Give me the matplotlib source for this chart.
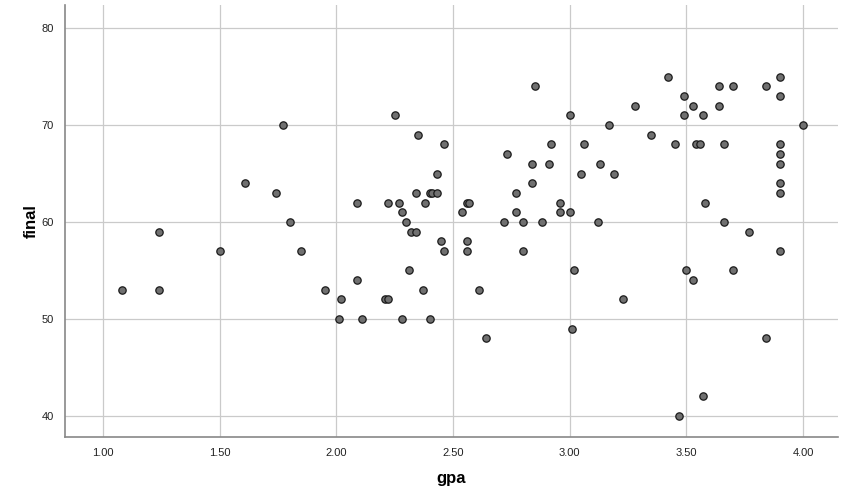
import matplotlib.pyplot as plt

# valores (gpa, final)
gpa = [1.08, 1.24, 1.24, 1.50, 1.61, 1.74, 1.77, 1.80, 1.85, 1.95,
       2.01, 2.02, 2.09, 2.09, 2.11, 2.21, 2.22, 2.22, 2.25, 2.27,
       2.28, 2.28, 2.30, 2.31, 2.32, 2.34, 2.34, 2.35, 2.37, 2.38,
       2.40, 2.41, 2.43, 2.40, 2.43, 2.45, 2.46, 2.46, 2.54, 2.56,
       2.57, 2.56, 2.56, 2.61, 2.64, 2.72, 2.73, 2.77, 2.77, 2.80,
       2.80, 2.84, 2.84, 2.85, 2.88, 2.91, 2.92, 2.96, 2.96, 3.00,
       3.00, 3.01, 3.02, 3.05, 3.06, 3.12, 3.13, 3.17, 3.19, 3.23,
       3.28, 3.35, 3.42, 3.45, 3.47, 3.49, 3.49, 3.50, 3.53, 3.53,
       3.54, 3.56, 3.57, 3.57, 3.58, 3.64, 3.64, 3.66, 3.66, 3.70,
       3.70, 3.77, 3.84, 3.84, 3.90, 3.90, 3.90, 3.90, 3.90, 3.90,
       3.90, 3.90, 4.00]
final = [53, 59, 53, 57, 64, 63, 70, 60, 57, 53,
         50, 52, 62, 54, 50, 52, 52, 62, 71, 62,
         61, 50, 60, 55, 59, 59, 63, 69, 53, 62,
         63, 63, 63, 50, 65, 58, 57, 68, 61, 62,
         62, 58, 57, 53, 48, 60, 67, 61, 63, 57,
         60, 64, 66, 74, 60, 66, 68, 62, 61, 61,
         71, 49, 55, 65, 68, 60, 66, 70, 65, 52,
         72, 69, 75, 68, 40, 73, 71, 55, 72, 54,
         68, 68, 71, 42, 62, 74, 72, 68, 60, 74,
         55, 59, 74, 48, 75, 73, 68, 67, 66, 64,
         63, 57, 70]

xticks = [1.0, 1.5, 2.0, 2.5, 3.0, 3.5, 4.0]
yticks = [40, 50, 60, 70, 80]

plt.rcParams['font.family'] = ['Liberation Sans', 'DejaVu Sans']

fig = plt.figure(figsize=(8.51, 5.01), dpi=100)
ax = fig.add_axes([65 / 851, 64 / 501, 773 / 851, 432 / 501])

ax.scatter(gpa, final, s=28, c='#707070', edgecolors='#1a1a1a',
           linewidths=0.9, zorder=3)

ax.set_xlim(0.837, 4.15)
ax.set_ylim(37.8, 82.4)
ax.set_xticks(xticks)
ax.set_xticklabels(['%.2f' % t for t in xticks])
ax.set_yticks(yticks)
ax.grid(True, color='#cacaca', linewidth=0.9, zorder=0)
ax.set_axisbelow(True)
ax.tick_params(length=0, labelsize=8, colors='#222222', pad=8)

for side in ['top', 'right']:
    ax.spines[side].set_visible(False)
for side in ['left', 'bottom']:
    ax.spines[side].set_color('#888888')
    ax.spines[side].set_linewidth(1.2)

ax.set_xlabel('gpa', fontsize=12, fontweight='bold', labelpad=9)
ax.set_ylabel('final', fontsize=12, fontweight='bold', labelpad=2)

fig.savefig('out.png', dpi=100)
